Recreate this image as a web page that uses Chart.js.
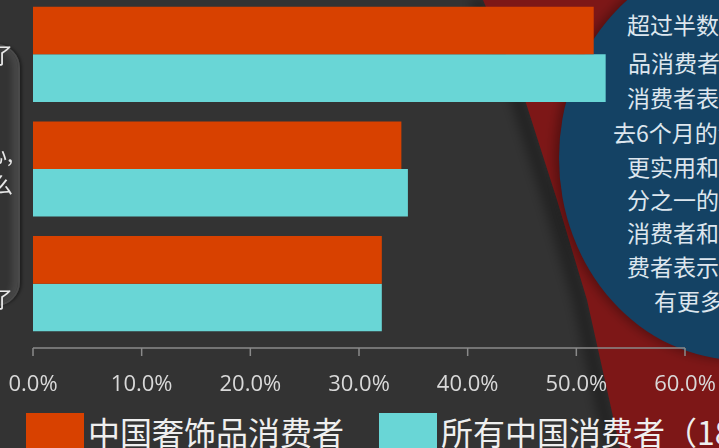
<!DOCTYPE html>
<html>
<head>
<meta charset="utf-8">
<script src="https://cdn.jsdelivr.net/npm/chart.js@4"></script>
<style>
  body { margin: 0; width: 719px; height: 448px; overflow: hidden; position: relative; background: #333333; }
  #bg { position: absolute; left: 0; top: 0; }
  .note { position: absolute; font-family: "Noto Sans CJK SC", sans-serif; font-size: 23px; line-height: 32px; color: #dde6ee; white-space: nowrap; }
  #frame { position: absolute; left: -34px; top: 44px; width: 50px; height: 258px; border-radius: 24px;
           border: 2px solid #4a4a4a; box-shadow: inset -6px 0 6px rgba(255,255,255,0.10), 2px 0 3px rgba(0,0,0,0.4); }
  #wrap { position: absolute; left: 0; top: -3px; width: 719px; height: 400px; }
  .leg { position: absolute; top: 413px; font-family: "Noto Sans CJK SC", sans-serif; font-size: 32px; line-height: 36px; color: #efefef; white-space: nowrap; }
  .leg span { display: inline-block; vertical-align: top; }
</style>
</head>
<body>
<svg id="bg" width="719" height="448">
  <defs>
    <filter id="blur"><feGaussianBlur stdDeviation="6"/></filter>
  </defs>
  <polyline points="476,0 518,100 550,200 580,300 612,448" fill="none" stroke="rgba(0,0,0,0.35)" stroke-width="14" filter="url(#blur)"/>
  <polygon points="483,0 525,100 557,200 587,300 620,448 719,448 719,0" fill="#7d1717"/>
  <ellipse cx="736" cy="158" rx="181" ry="202" fill="rgba(0,0,0,0.35)" filter="url(#blur)"/>
  <ellipse cx="740" cy="158" rx="181" ry="202" fill="#144264"/>
</svg>
<div id="frame"></div>
<div id="notes"></div>
<div id="wrap"><canvas id="bars" width="719" height="400"></canvas></div>
<div id="legend"></div>
<script>
// categories (only the tail of each label is visible in the picture)
const categories = [['了'], ['心,', '么'], ['', '了']];
const seriesNames = ['中国奢饰品消费者', '所有中国消费者（18岁及以上）'];
const luxuryShare = [51.6, 33.9, 32.1];
const allShare = [52.7, 34.5, 32.1];
const xTicks = [0, 10, 20, 30, 40, 50, 60];
const seriesColors = ['#d84100', '#69d6d6'];

const noteLines = ['超过半数的奢侈', '品消费者和所有', '消费者表示，过', '去6个月的消费', '更实用和理性；三', '分之一的奢侈品', '消费者和所有消', '费者表示将会', '有更多储蓄'];
const noteLeft = [627, 628, 627, 613, 627, 627, 627, 627, 654];
const noteMid = [24, 62, 97, 132, 166, 199, 232, 266, 300];

// text in the blue bubble
noteLines.forEach((t, i) => {
    let d = document.createElement('div');
    d.className = 'note';
    d.textContent = t;
    d.style.left = noteLeft[i] + 'px';
    d.style.top = (noteMid[i] - 16) + 'px';
    document.getElementById('notes').appendChild(d);
});

// axis line drawn a little below the plot, like the original
const axisLine = {
    id: 'axisLine',
    afterDraw(chart) {
        const ctx = chart.ctx;
        const xs = chart.scales.x;
        const y = chart.chartArea.bottom + 7;
        ctx.save();
        ctx.strokeStyle = '#8a8a8a';
        ctx.lineWidth = 1.5;
        ctx.beginPath();
        ctx.moveTo(xs.left, y);
        ctx.lineTo(xs.right, y);
        xTicks.forEach(v => {
            const px = xs.getPixelForValue(v);
            ctx.moveTo(px, y);
            ctx.lineTo(px, y + 8);
        });
        ctx.stroke();
        ctx.restore();
    }
};

const barsChart = new Chart(document.getElementById('bars'), {
    type: 'bar',
    data: {
        labels: categories,
        datasets: [
            { label: seriesNames[0], data: luxuryShare, backgroundColor: seriesColors[0] },
            { label: seriesNames[1], data: allShare, backgroundColor: seriesColors[1] }
        ]
    },
    options: {
        indexAxis: 'y',
        responsive: false,
        animation: false,
        categoryPercentage: 0.83,
        barPercentage: 1.0,
        layout: { padding: { left: 0, right: 34, top: 0, bottom: 0 } },
        plugins: { legend: { display: false }, tooltip: { enabled: false } },
        scales: {
            x: {
                min: 0,
                max: 60,
                grid: { display: false },
                border: { display: false },
                afterBuildTicks: s => { s.ticks = xTicks.map(v => ({ value: v })); },
                afterFit: s => { s.height = 56; s.paddingLeft = 0; s.paddingRight = 0; },
                ticks: {
                    color: '#d9d9d9',
                    padding: 23,
                    maxRotation: 0,
                    font: { family: '"Open Sans", sans-serif', size: 22 },
                    callback: v => v.toFixed(1) + '%'
                }
            },
            y: {
                grid: { display: false },
                border: { display: false },
                afterFit: s => { s.width = 33; s.paddingTop = 0; s.paddingBottom = 0; },
                ticks: {
                    color: '#e8e8e8',
                    padding: 12,
                    font: { family: '"Noto Sans CJK SC", sans-serif', size: 22, lineHeight: 1.4 }
                }
            }
        }
    },
    plugins: [axisLine]
});

// legend
const legendLeft = [26, 379];
seriesNames.forEach((name, i) => {
    let item = document.createElement('div');
    item.className = 'leg';
    item.style.left = legendLeft[i] + 'px';
    item.innerHTML = '<span style="width:58px;height:40px;background:' + seriesColors[i] + ';margin-right:4px"></span><span>' + name + '</span>';
    document.getElementById('legend').appendChild(item);
});
</script>
</body>
</html>
